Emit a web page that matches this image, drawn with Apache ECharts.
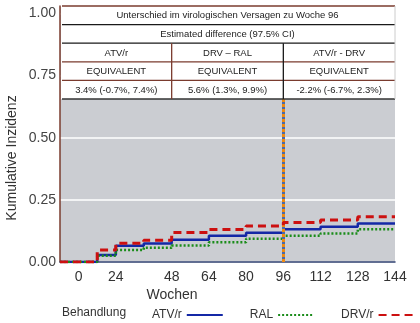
<!DOCTYPE html>
<html>
<head>
<meta charset="utf-8">
<script src="https://cdn.jsdelivr.net/npm/echarts@6/dist/echarts.min.js"></script>
<style>
html,body{margin:0;padding:0;background:#fff;}
#c{width:420px;height:323px;}
</style>
</head>
<body>
<div id="c"></div>
<script>
// ---- data ----
const weeks = [0, 16, 24, 36, 48, 64, 80, 96, 112, 128, 144];
const atvR = [0, 0.028, 0.065, 0.074, 0.090, 0.106, 0.118, 0.132, 0.142, 0.155, 0.155];
const ral  = [0, 0.025, 0.048, 0.057, 0.066, 0.079, 0.094, 0.106, 0.115, 0.132, 0.132];
const drvR = [0, 0.048, 0.075, 0.088, 0.119, 0.131, 0.145, 0.159, 0.169, 0.182, 0.182];
const seriesNames = ['ATV/r', 'RAL', 'DRV/r'];
const xTickValues = [8, 24, 48, 64, 80, 96, 112, 128, 144];
const xTickLabels = ['0', '24', '48', '64', '80', '96', '112', '128', '144'];
const yTickValues = [0, 0.25, 0.5, 0.75, 1.0];
const referenceWeek = 96;
const tableTitle = 'Unterschied im virologischen Versagen zu Woche 96';
const tableSubtitle = 'Estimated difference (97.5% CI)';
const comparisons = ['ATV/r', 'DRV \u2013 RAL', 'ATV/r - DRV'];
const verdicts = ['EQUIVALENT', 'EQUIVALENT', 'EQUIVALENT'];
const estimates = ['3.4% (-0.7%, 7.4%)', '5.6% (1.3%, 9.9%)', '-2.2% (-6.7%, 2.3%)'];
const columnBreakWeeks = [48, 96];
const xAxisName = 'Wochen';
const yAxisName = 'Kumulative Inzidenz';
const legendTitle = 'Behandlung';

const pts = (ys) => weeks.map((w, i) => [w, ys[i]]);
const FONT = 'Liberation Sans, Arial, sans-serif';

const chart = echarts.init(document.getElementById('c'), null, {renderer: 'canvas'});
const option = {
  animation: false,
  backgroundColor: '#ffffff',
  grid: {left: 60, right: 25, top: 6, bottom: 61, show: true, backgroundColor: '#cbcdd2', borderWidth: 0},
  xAxis: {
    type: 'value', min: 0, max: 144,
    axisLine: {show: true, onZero: false, lineStyle: {color: '#2f4070', width: 1.5}},
    axisTick: {show: false},
    splitLine: {show: false},
    axisLabel: {
      customValues: xTickValues,
      formatter: v => xTickLabels[xTickValues.indexOf(v)],
      color: '#333', fontSize: 14, fontFamily: FONT, margin: 8
    }
  },
  yAxis: {
    type: 'value', min: 0, max: 1.03, interval: 0.25,
    axisLine: {show: true, lineStyle: {color: '#7a3b2e', width: 1.5}},
    axisTick: {show: false},
    splitLine: {show: true, lineStyle: {color: '#ffffff', width: 1.5}},
    axisLabel: {
      customValues: yTickValues,
      formatter: v => v.toFixed(2),
      color: '#444', fontSize: 14, fontFamily: FONT, margin: 4
    }
  },
  legend: {
    left: 147, top: 304, align: 'right', itemWidth: 36, itemHeight: 8, itemGap: 26,
    width: 600,
    itemStyle: {opacity: 0},
    textStyle: {color: '#333', fontSize: 12, fontFamily: FONT},
    data: seriesNames
  },
  series: [
    {
      name: seriesNames[0], type: 'line', step: 'end', data: pts(atvR), showSymbol: false, symbol: 'none',
      lineStyle: {color: '#1428a6', width: 2.5}, itemStyle: {color: '#1428a6'}, z: 3,
      markLine: {
        silent: true, symbol: 'none', label: {show: false},
        data: [
          {xAxis: referenceWeek, lineStyle: {color: '#4a6aa8', width: 3, type: 'solid'}},
          {xAxis: referenceWeek, lineStyle: {color: '#f08a10', width: 3, type: [3, 2]}}
        ]
      }
    },
    {
      name: seriesNames[1], type: 'line', step: 'end', data: pts(ral), showSymbol: false, symbol: 'none',
      lineStyle: {color: '#1a8c1a', width: 2.5, type: [2, 2]}, itemStyle: {color: '#1a8c1a'}, z: 4
    },
    {
      name: seriesNames[2], type: 'line', step: 'end', data: pts(drvR), showSymbol: false, symbol: 'none',
      lineStyle: {color: '#cc1010', width: 3, type: [8, 5]}, itemStyle: {color: '#cc1010'}, z: 5
    }
  ]
};
chart.setOption(option);

// ---- table & extra texts, positioned from the grid ----
const gl = 60, gr = 395, gt = 6;
const tableBottom = 99;
const rowH = (tableBottom - gt) / 5;
const breaks = columnBreakWeeks.map(w => chart.convertToPixel({gridIndex: 0}, [w, 0])[0]);
const colEdges = [gl + 1, breaks[0], breaks[1], gr];
const brown = '#7a3b2e', black = '#1a1a1a';
const g = [];
g.push({type: 'rect', z: 100, shape: {x: gl + 1, y: gt - 1, width: gr - gl - 1, height: tableBottom - gt + 1}, style: {fill: '#fff'}});
const hl = (y, c) => g.push({type: 'line', z: 101, shape: {x1: gl + 2, y1: y, x2: gr, y2: y}, style: {stroke: c, lineWidth: 1.3}});
hl(gt, brown); hl(gt + rowH, black); hl(gt + 2 * rowH, black); hl(gt + 3 * rowH, brown); hl(gt + 4 * rowH, brown); hl(tableBottom, '#333');
g.push({type: 'line', z: 101, shape: {x1: gr, y1: gt, x2: gr, y2: tableBottom}, style: {stroke: '#ccc', lineWidth: 1}});
g.push({type: 'line', z: 101, shape: {x1: breaks[0], y1: gt + 2 * rowH, x2: breaks[0], y2: tableBottom}, style: {stroke: brown, lineWidth: 1.3}});
g.push({type: 'line', z: 101, shape: {x1: breaks[1], y1: gt + 2 * rowH, x2: breaks[1], y2: tableBottom}, style: {stroke: black, lineWidth: 1.3}});
const txt = (t, x, y, size, extra) => g.push(Object.assign({type: 'text', z: 102, style: {text: t, x: x, y: y, fill: '#222', font: size + 'px ' + FONT, textAlign: 'center', textVerticalAlign: 'middle'}}, extra || {}));
const midX = (gl + gr) / 2;
txt(tableTitle, midX, gt + rowH * 0.5 + 0.5, 9.5);
txt(tableSubtitle, midX, gt + rowH * 1.5 + 0.5, 9.5);
[comparisons, verdicts, estimates].forEach((row, r) => {
  row.forEach((t, c) => txt(t, (colEdges[c] + colEdges[c + 1]) / 2, gt + rowH * (2.5 + r) + 0.5, 9.5));
});
// axis names and legend title
g.push({type: 'text', z: 102, x: 172, y: 295, style: {text: xAxisName, x: 0, y: 0, fill: '#333', font: '14px ' + FONT, textAlign: 'center', textVerticalAlign: 'middle'}});
g.push({type: 'text', z: 102, x: 12, y: 158, rotation: Math.PI / 2, style: {text: yAxisName, x: 0, y: 0, fill: '#333', font: '14px ' + FONT, textAlign: 'center', textVerticalAlign: 'middle'}});
g.push({type: 'text', z: 102, x: 62, y: 313, style: {text: legendTitle, x: 0, y: 0, fill: '#333', font: '12px ' + FONT, textAlign: 'left', textVerticalAlign: 'middle'}});
chart.setOption({graphic: g});
</script>
</body>
</html>
